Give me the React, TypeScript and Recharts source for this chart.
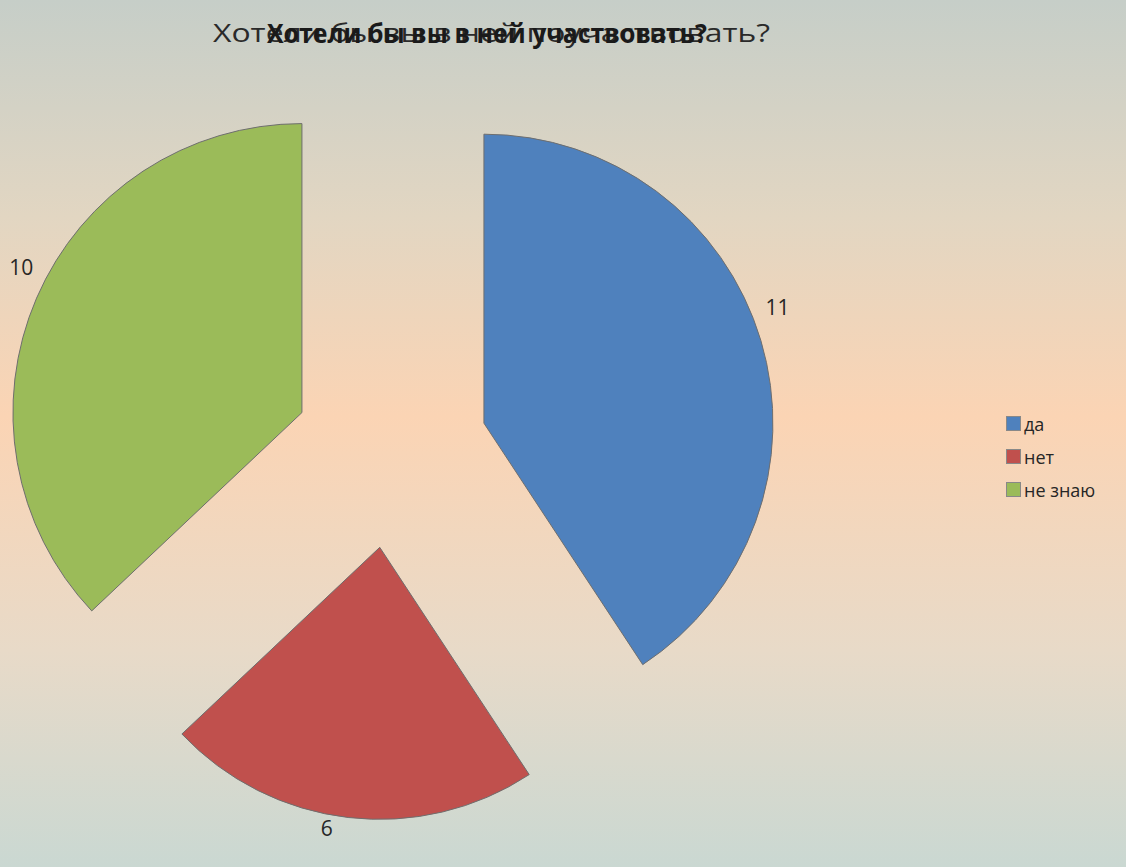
import { PieChart, Pie, Cell, Sector, Legend } from "recharts";

const answers = ["да", "нет", "не знаю"];
const counts = [11, 6, 10];
const sliceColors = ["#4f81bd", "#c0504d", "#9bbb59"];

const titleBack = "Хотели бы вы в ней поучаствовать?";
const titleFront = "Хотели бы вы в ней участвовать?";

const data = answers.map((name, i) => ({ name, value: counts[i] }));

const RAD = Math.PI / 180;
const EXPLODE = 97;
const FONT = "'Open Sans', 'Noto Sans', sans-serif";
// the red slice looks a little squashed in the original
const radiusTrim = [0, 17, 0];
const labelTurn = [5, -4, -4];
const labelGap = [27, 14, 27];

// pull each slice out along its middle angle
const explode = (cx: number, cy: number, angle: number, d: number) => ({
  x: cx + d * Math.cos(-angle * RAD),
  y: cy + d * Math.sin(-angle * RAD),
});

const ExplodedSlice = (props: any) => {
  const { cx, cy, midAngle, innerRadius, outerRadius, startAngle, endAngle, fill, index } = props;
  const c = explode(cx, cy, midAngle, EXPLODE);
  return (
    <Sector
      cx={c.x}
      cy={c.y}
      innerRadius={innerRadius}
      outerRadius={outerRadius - (radiusTrim[index] ?? 0)}
      startAngle={startAngle}
      endAngle={endAngle}
      fill={fill}
      stroke="#6e6e6e"
      strokeWidth={1}
    />
  );
};

const SliceLabel = (props: any) => {
  const { cx, cy, midAngle, outerRadius, value, index } = props;
  const c = explode(cx, cy, midAngle, EXPLODE);
  const r = outerRadius - (radiusTrim[index] ?? 0) + (labelGap[index] ?? 27);
  const p = explode(c.x, c.y, midAngle + (labelTurn[index] ?? 0), r);
  return (
    <text x={p.x} y={p.y} fill="#262626" fontSize={21} fontFamily={FONT} textAnchor="middle" dominantBaseline="central">
      {value}
    </text>
  );
};

const LegendBox = () => (
  <div style={{ fontFamily: FONT, fontSize: 18, color: "#262626" }}>
    {answers.map((a, i) => (
      <div key={a} style={{ display: "flex", alignItems: "center", height: 33 }}>
        <span
          style={{
            display: "inline-block",
            width: 13,
            height: 13,
            background: sliceColors[i],
            border: "1px solid #888",
            marginRight: 3,
          }}
        />
        {a}
      </div>
    ))}
  </div>
);

export default function App() {
  return (
    <div
      style={{
        position: "fixed",
        left: 0,
        top: 0,
        width: 1126,
        height: 867,
        background: "linear-gradient(to bottom, #c6cec8 0%, #e2d6c2 25%, #fbd4b4 48%, #e8dac8 75%, #cad8d2 100%)",
      }}
    >
      <svg width={1126} height={70} style={{ position: "absolute", left: 0, top: 0 }}>
        <text x={213} y={42} fontFamily={FONT} fontSize={26} fill="#2a2a2a" textLength={557} lengthAdjust="spacingAndGlyphs">
          {titleBack}
        </text>
        <text x={267} y={43} fontFamily={FONT} fontSize={26} fontWeight="bold" fill="#1a1a1a" textLength={440} lengthAdjust="spacingAndGlyphs">
          {titleFront}
        </text>
      </svg>
      <PieChart width={1126} height={867} style={{ position: "absolute", left: 0, top: 0 }}>
        <Pie
          data={data}
          dataKey="value"
          nameKey="name"
          cx={386}
          cy={446}
          outerRadius={289}
          startAngle={90}
          endAngle={-270}
          stroke="#6e6e6e"
          shape={ExplodedSlice}
          label={SliceLabel}
          labelLine={false}
          isAnimationActive={false}
        >
          {data.map((d, i) => (
            <Cell key={d.name} fill={sliceColors[i]} />
          ))}
        </Pie>
        <Legend
          layout="vertical"
          content={() => <LegendBox />}
          wrapperStyle={{ position: "absolute", left: 1006, top: 407, width: 120 }}
        />
      </PieChart>
    </div>
  );
}
